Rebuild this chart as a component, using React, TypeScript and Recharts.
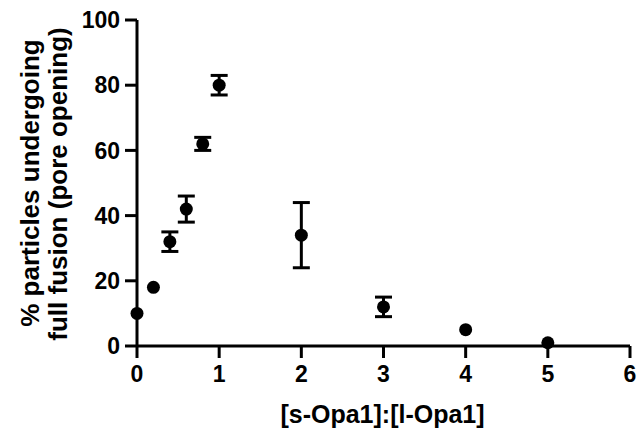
import React from "react";
import { ScatterChart, Scatter, XAxis, YAxis, ErrorBar, Label } from "recharts";

const ratios = [0, 0.2, 0.4, 0.6, 0.8, 1, 2, 3, 4, 5];
const fusionPct = [10, 18, 32, 42, 62, 80, 34, 12, 5, 1];
const sem = [0, 0, 3, 4, 2, 3, 10, 3, 0, 0];
const xTicks = [0, 1, 2, 3, 4, 5, 6];
const yTicks = [0, 20, 40, 60, 80, 100];
const xTitle = "[s-Opa1]:[l-Opa1]";
const yTitle1 = "% particles undergoing";
const yTitle2 = "full fusion (pore opening)";

const data = ratios.map((r, i) => ({ x: r, y: fusionPct[i], err: sem[i] || null }));

const FONT = "'Liberation Sans', Arial, Helvetica, sans-serif";

const Dot = (props: any) => {
  const { cx, cy } = props;
  if (cx == null || cy == null) return null;
  return <circle cx={cx} cy={cy} r={6.5} fill="#000" />;
};

const YTitle = () => (
  <g fontFamily={FONT} fontWeight="bold" fontSize={26} fill="#000">
    <text x={39} y={183} textAnchor="middle" transform="rotate(-90, 39, 183)">
      {yTitle1}
    </text>
    <text x={67} y={184} textAnchor="middle" transform="rotate(-90, 67, 184)">
      {yTitle2}
    </text>
  </g>
);

const XTitle = () => (
  <text x={382.5} y={423} textAnchor="middle" fontFamily={FONT} fontWeight="bold" fontSize={25} fill="#000">
    {xTitle}
  </text>
);

export default function App() {
  return (
    <div style={{ position: "absolute", left: 0, top: 0, width: 639, height: 432, background: "#fff" }}>
      <ScatterChart width={639} height={432} margin={{ top: 20, right: 9, bottom: 16, left: 67 }}>
        <XAxis
          type="number"
          dataKey="x"
          domain={[0, 6]}
          ticks={xTicks}
          height={70}
          axisLine={{ stroke: "#000", strokeWidth: 3 }}
          tickLine={{ stroke: "#000", strokeWidth: 3 }}
          tickSize={12}
          tickMargin={8}
          tick={{ fill: "#000", fontSize: 23, fontWeight: "bold", fontFamily: FONT }}
        >
          <Label content={<XTitle />} />
        </XAxis>
        <YAxis
          type="number"
          dataKey="y"
          domain={[0, 100]}
          ticks={yTicks}
          width={70}
          axisLine={{ stroke: "#000", strokeWidth: 3 }}
          tickLine={{ stroke: "#000", strokeWidth: 3 }}
          tickSize={12}
          tickMargin={5}
          tick={{ fill: "#000", fontSize: 23, fontWeight: "bold", fontFamily: FONT }}
        >
          <Label content={<YTitle />} />
        </YAxis>
        <Scatter data={data} fill="#000" shape={<Dot />} isAnimationActive={false}>
          <ErrorBar dataKey="err" direction="y" width={8.5} strokeWidth={3} stroke="#000" isAnimationActive={false} />
        </Scatter>
      </ScatterChart>
    </div>
  );
}
